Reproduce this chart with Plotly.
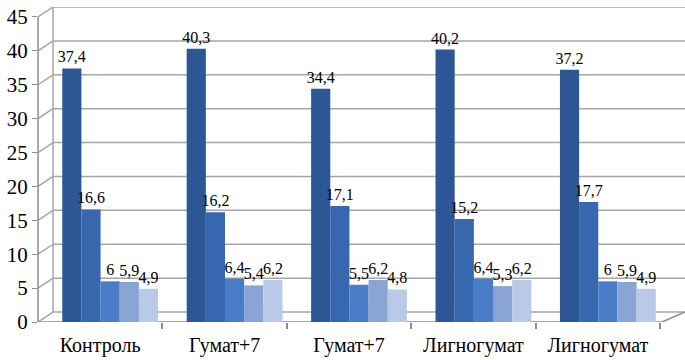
import plotly.graph_objects as go

categories = ["Контроль", "Гумат+7", "Гумат+7", "Лигногумат", "Лигногумат"]
series_1 = [37.4, 40.3, 34.4, 40.2, 37.2]
series_2 = [16.6, 16.2, 17.1, 15.2, 17.7]
series_3 = [6, 6.4, 5.5, 6.4, 6]
series_4 = [5.9, 5.4, 6.2, 5.3, 5.9]
series_5 = [4.9, 6.2, 4.8, 6.2, 4.9]
y_ticks = [0, 5, 10, 15, 20, 25, 30, 35, 40, 45]

series = [series_1, series_2, series_3, series_4, series_5]
colors = ["#2C5794", "#3767AF", "#4A7DC8", "#8AA5D4", "#B9C9E8"]

FONT = "Times New Roman, Liberation Serif, DejaVu Serif, serif"
DEPTH_Y = 1.47      # back-wall shift in y units
DEPTH_XP = 0.0232   # back-wall shift in paper x
FLOOR_END = 0.9645  # front floor right end (paper)
BAR_SHIFT = 0.08

def fmt(v):
    return f"{v:g}".replace(".", ",")

fig = go.Figure()
xpos = [i + BAR_SHIFT for i in range(len(categories))]
for vals, col in zip(series, colors):
    fig.add_trace(go.Bar(
        x=xpos, y=vals, marker=dict(color=col, line=dict(width=0)),
        text=[fmt(v) for v in vals], textposition="outside",
        constraintext="none",
        textfont=dict(family=FONT, size=16, color="#000"),
        cliponaxis=False, showlegend=False, hoverinfo="skip",
    ))

shapes = []
grid_col = "#A6A6A6"
for v in y_ticks:
    shapes.append(dict(type="line", xref="paper", yref="y", x0=DEPTH_XP, x1=1,
                       y0=v + DEPTH_Y, y1=v + DEPTH_Y, layer="between",
                       line=dict(color=grid_col, width=1.5)))
    shapes.append(dict(type="line", xref="paper", yref="y", x0=0, x1=DEPTH_XP,
                       y0=v, y1=v + DEPTH_Y, layer="between",
                       line=dict(color=grid_col, width=1.5)))
# back wall left edge
shapes.append(dict(type="line", xref="paper", yref="y", x0=DEPTH_XP, x1=DEPTH_XP,
                   y0=DEPTH_Y, y1=y_ticks[-1] + DEPTH_Y, layer="between",
                   line=dict(color=grid_col, width=1.5)))
# floor front & right edge
shapes.append(dict(type="line", xref="paper", yref="y", x0=0, x1=FLOOR_END,
                   y0=0, y1=0, layer="between", line=dict(color="#8C8C8C", width=1.5)))
shapes.append(dict(type="line", xref="paper", yref="y", x0=FLOOR_END, x1=1,
                   y0=0, y1=DEPTH_Y, layer="between", line=dict(color="#8C8C8C", width=1.5)))
# left axis line
shapes.append(dict(type="line", xref="paper", yref="y", x0=0, x1=0,
                   y0=0, y1=y_ticks[-1], layer="between", line=dict(color="#8C8C8C", width=1.5)))

fig.update_layout(
    width=685, height=360,
    margin=dict(l=38, r=0, t=7, b=38),
    paper_bgcolor="white", plot_bgcolor="rgba(0,0,0,0)",
    font=dict(family=FONT, color="#000"),
    barmode="group", bargap=0.23, bargroupgap=0,
    shapes=shapes,
    xaxis=dict(range=[-0.5, 4.70], tickvals=list(range(len(categories))),
               ticktext=categories, showgrid=False, zeroline=False, showline=False,
               automargin=False, ticklabelstandoff=9,
               ticks="", tickfont=dict(family=FONT, size=20, color="#000"),
               minor=dict(tickvals=[i + 0.5 for i in range(len(categories))],
                          ticks="outside", ticklen=6, tickcolor="#8C8C8C", tickwidth=1.5)),
    yaxis=dict(range=[0, 46.47], tickvals=y_ticks, showgrid=False, zeroline=False,
               showline=False, ticks="outside", ticklen=5, tickcolor="#8C8C8C",
               automargin=False,
               tickfont=dict(family=FONT, size=21, color="#000")),
)

fig.write_html("out.html", config={"displayModeBar": False},
               post_script="document.body.style.margin='0px';")
